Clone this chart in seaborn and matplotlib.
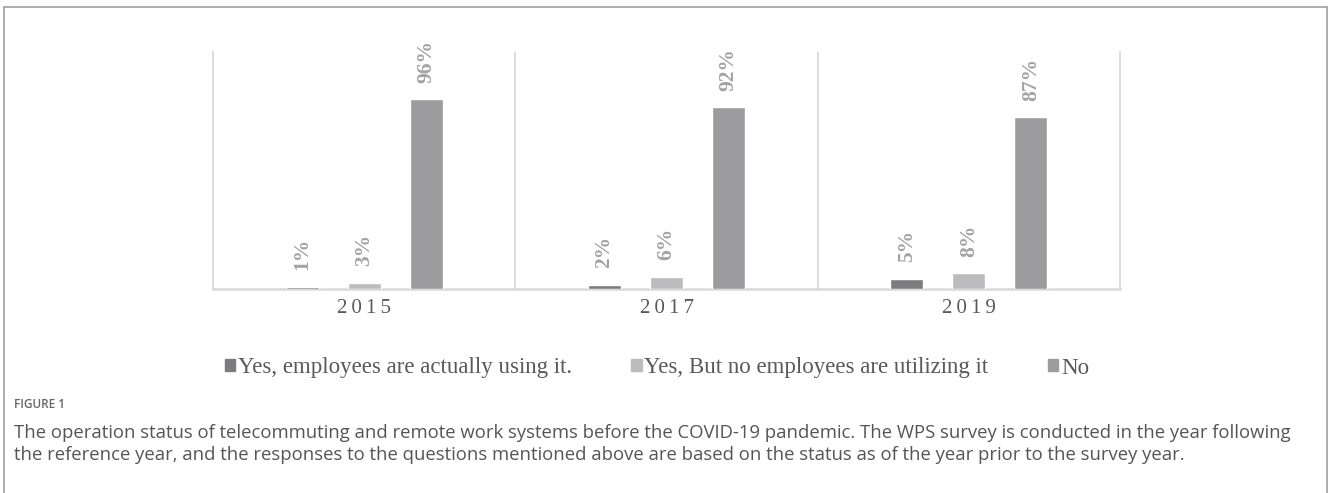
import matplotlib
matplotlib.use("Agg")
import matplotlib.pyplot as plt
from matplotlib.lines import Line2D
import seaborn as sns
import pandas as pd

# data
years = ["2015", "2017", "2019"]
statuses = ["Yes, employees are actually using it.",
            "Yes, But no employees are utilizing it",
            "No"]
using = [1, 2, 5]
not_using = [3, 6, 8]
no_system = [96, 92, 87]
colors = ["#7c7c7f", "#bcbcbe", "#9c9c9e"]

caption_head = "FIGURE 1"
caption_text = ("The operation status of telecommuting and remote work systems before the COVID-19 pandemic. "
                "The WPS survey is conducted in the year following\n"
                "the reference year, and the responses to the questions mentioned above are based on the "
                "status as of the year prior to the survey year.")

rows = []
for name, vals in zip(statuses, [using, not_using, no_system]):
    for yr, v in zip(years, vals):
        rows.append({"year": yr, "status": name, "value": v})
df = pd.DataFrame(rows)

sns.set_style("white")
serif = ["Liberation Serif", "DejaVu Serif"]

fig = plt.figure(figsize=(13.28, 4.93), dpi=100)
ax = fig.add_axes([213 / 1328, 1 - 289 / 493, 907 / 1328, 237 / 493])

sns.barplot(data=df, x="year", y="value", hue="status", hue_order=statuses,
            order=years, palette=colors, width=0.615, gap=0.47,
            saturation=1, ax=ax, legend=False, zorder=3)

for cont in ax.containers:
    ax.bar_label(cont, labels=[f"{int(b.get_height())}%" for b in cont],
                 rotation=90, padding=12, fontsize=15.5, fontweight="bold",
                 color="#a3a3a3", family=serif)

ax.set_ylim(0, 120)
ax.set_xlim(-0.5, 2.5)
ax.set_yticks([])
ax.set_xlabel("")
ax.set_ylabel("")
ax.set_xticks(range(len(years)))
ax.set_xticklabels(["\u2009".join(y) for y in years], family=serif,
                   fontsize=15, color="#595959")
ax.tick_params(axis="x", length=0, pad=7)

for x in [0.5, 1.5]:
    ax.axvline(x, color="#d9d9d9", lw=1.3, zorder=1)
ax.spines["top"].set_visible(False)
for side in ["left", "right"]:
    ax.spines[side].set_color("#d9d9d9")
    ax.spines[side].set_linewidth(1.3)
ax.spines["bottom"].set_color("#d9d9d9")
ax.spines["bottom"].set_linewidth(1.8)
for sp in ax.spines.values():
    sp.set_zorder(1)

handles = [plt.Rectangle((0, 0), 1, 1, color=c) for c in colors]
fig.legend(handles, statuses, loc="center", bbox_to_anchor=(657 / 1328, 1 - 368 / 493),
           ncol=3, frameon=False, handlelength=0.45, handleheight=0.45,
           handletextpad=0.12, columnspacing=2.6,
           prop={"family": serif, "size": 16.5}, labelcolor="#595959")

fig.text(14 / 1328, 1 - 405 / 493, caption_head, fontsize=8.5, color="#666666",
         family="Open Sans", fontweight="semibold", va="center")
fig.text(14 / 1328, 1 - 444 / 493, caption_text, fontsize=13.3, color="#555555",
         family="Open Sans", va="center", linespacing=1.3)

# outer frame
fc = "#a0a0a0"
fig.add_artist(Line2D([4 / 1328, 4 / 1328], [0, 1 - 7 / 493], color=fc, lw=1.2))
fig.add_artist(Line2D([4 / 1328, 1327 / 1328], [1 - 7 / 493, 1 - 7 / 493], color=fc, lw=1.2))
fig.add_artist(Line2D([1327 / 1328, 1327 / 1328], [0, 1 - 7 / 493], color=fc, lw=1.2))

fig.savefig("out.png", dpi=100)
